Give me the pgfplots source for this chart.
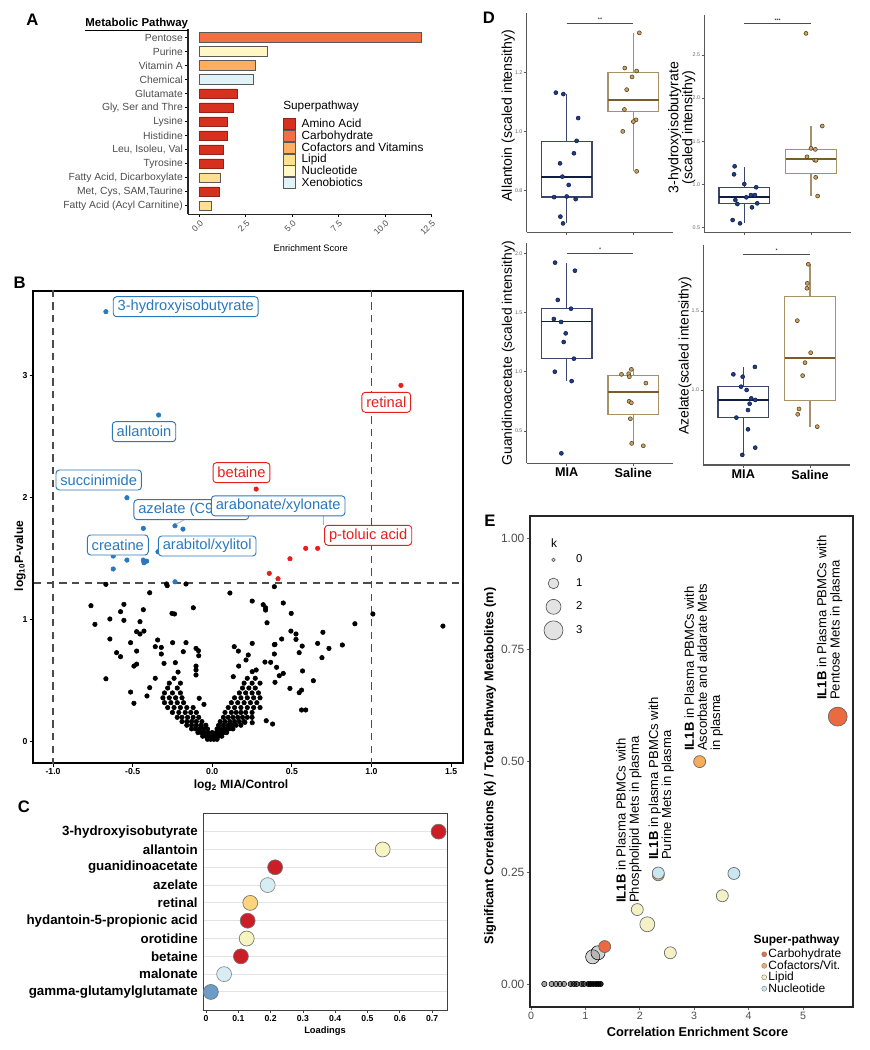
\documentclass[border=0pt]{standalone}
\usepackage{pgfplots}
\pgfplotsset{compat=1.18}
\usepgfplotslibrary{statistics}
\usepackage{fontspec}
\setmainfont{Liberation Sans}
\newcommand\fs[1]{\fontsize{#1}{#1}\selectfont}
\definecolor{tickgray}{HTML}{4D4D4D}
\definecolor{aa}{HTML}{D7301F}
\definecolor{carb}{HTML}{F46D43}
\definecolor{cof}{HTML}{FDAE61}
\definecolor{lip}{HTML}{FEE090}
\definecolor{nuc}{HTML}{FFF8C4}
\definecolor{xen}{HTML}{E0F3F8}
\definecolor{vblue}{HTML}{2B78BC}
\definecolor{vred}{HTML}{E3211C}
\definecolor{cred}{HTML}{CC1E27}
\definecolor{cyel}{HTML}{F8F4C2}
\definecolor{cpale}{HTML}{D8ECF3}
\definecolor{cora}{HTML}{FDD47E}
\definecolor{cblue}{HTML}{6C9DC8}
\definecolor{navy}{HTML}{1C3C8C}
\definecolor{navyd}{HTML}{101D40}
\definecolor{navybox}{HTML}{3B4668}
\definecolor{tanc}{HTML}{C9A160}
\definecolor{tand}{HTML}{4E3D1E}
\definecolor{tanbox}{HTML}{A89068}
\definecolor{tanmed}{HTML}{7A5C28}
\definecolor{ecarb}{HTML}{EB6A3F}
\definecolor{ecof}{HTML}{F6AD5B}
\definecolor{elip}{HTML}{F4F1C6}
\definecolor{enuc}{HTML}{C9E7F0}

\tikzset{px/.style={x=0.75pt,y=-0.75pt}}
\pgfplotsset{
  sqleg/.style={legend image code/.code={\path[draw=none,fill=none] (0pt,-4.4pt) rectangle (9pt,4.4pt);
      \draw[##1,line width=0.5pt] (0pt,-4.1pt) rectangle (9pt,4.1pt);}},
  kleg/.style={legend image code/.code={\path[draw=none,fill=none] (0pt,-8.8pt) rectangle (16pt,8.8pt);
      \draw[##1] plot coordinates {(8pt,0pt)};}},
  sleg/.style={legend image code/.code={\path[draw=none,fill=none] (0pt,-4.3pt) rectangle (4pt,4.3pt);
      \draw[##1] plot coordinates {(2pt,0pt)};}},
  Dax/.style={anchor=south west, scale only axis, xmin=0.4, xmax=2.6, xtick={1,2},
    axis x line*=bottom, axis y line*=left,
    axis line style={draw=black!65, line width=0.9pt},
    tick style={black!65, line width=0.5pt}, tick align=outside, major tick length=2pt,
    yticklabel style={font=\fs{4}, text=black!60, inner sep=1pt,
      /pgf/number format/.cd, fixed, fixed zerofill, precision=1},
    xticklabel style={font=\bfseries\fs{9.5}, text=black, inner sep=1.5pt},
    /pgf/number format/assume math mode=true, clip=false},
  mbox/.style={draw=navybox, line width=0.9pt, boxplot/draw direction=y, boxplot/whisker extend=0,
    boxplot/every median/.style={draw=navyd, line width=1.4pt}},
  sbox/.style={draw=tanbox, line width=0.9pt, boxplot/draw direction=y, boxplot/whisker extend=0,
    boxplot/every median/.style={draw=tanmed, line width=1.4pt}},
  mpts/.style={only marks, mark=*, mark size=1.5pt, mark options={fill=navy, draw=navyd, line width=0.4pt}},
  spts/.style={only marks, mark=*, mark size=1.5pt, mark options={fill=tanc, draw=tand, line width=0.4pt}},
  sig/.style={black!70, line width=0.8pt},
}

\begin{document}
\begin{tikzpicture}
\path[use as bounding box] (0pt,0pt) rectangle (651.75pt,-787.5pt);

% ---------------- A ----------------
\begin{axis}[
  at={(188*0.75pt,-214.3*0.75pt)}, anchor=south west, scale only axis,
  width=183pt, height=138.9pt,
  xmin=-0.62, xmax=12.53, ymin=0.4, ymax=13.6,
  axis x line*=bottom, axis y line*=left,
  axis line style={line width=0.9pt, black!85},
  tick align=outside, major tick length=2.2pt, tick style={black, line width=0.6pt},
  xtick={0,2.5,5,7.5,10,12.5}, xticklabels={0.0,2.5,5.0,7.5,10.0,12.5},
  xticklabel style={rotate=45, anchor=north east, font=\fs{6.5}, text=tickgray, inner sep=1pt},
  ytick={1,...,13},
  yticklabels={Fatty Acid (Acyl Carnitine),{Met, Cys, SAM,Taurine},{Fatty Acid, Dicarboxylate},Tyrosine,{Leu, Isoleu, Val},Histidine,Lysine,{Gly, Ser and Thre},Glutamate,Chemical,Vitamin A,Purine,Pentose},
  yticklabel style={font=\fs{7.75}, text=tickgray, inner sep=1.5pt},
  legend style={at={(axis cs:4.5,7.255)}, anchor=north west, draw=none, fill=none,
    inner sep=0pt, font=\fs{8.85}, cells={anchor=west}, nodes={inner sep=0pt},
    row sep=0pt, /tikz/every odd column/.append style={column sep=4.3pt}},
]
\addplot[xbar, bar width=7.3pt, bar shift=0pt, fill=aa, draw=aa!70!black, forget plot]
  coordinates {(2.02,9) (1.80,8) (1.50,7) (1.50,6) (1.28,5) (1.28,4) (1.05,2)};
\addplot[xbar, bar width=7.3pt, bar shift=0pt, fill=carb, draw=gray!70!black, forget plot]
  coordinates {(11.97,13)};
\addplot[xbar, bar width=7.3pt, bar shift=0pt, fill=cof, draw=gray!70!black, forget plot]
  coordinates {(3.03,11)};
\addplot[xbar, bar width=7.3pt, bar shift=0pt, fill=lip, draw=gray!70!black, forget plot]
  coordinates {(1.12,3) (0.64,1)};
\addplot[xbar, bar width=7.3pt, bar shift=0pt, fill=nuc, draw=gray!70!black, forget plot]
  coordinates {(3.65,12)};
\addplot[xbar, bar width=7.3pt, bar shift=0pt, fill=xen, draw=gray!70!black, forget plot]
  coordinates {(2.90,10)};
\addlegendimage{sqleg, fill=aa, draw=aa!70!black}\addlegendentry{Amino Acid}
\addlegendimage{sqleg, fill=carb, draw=gray!70!black}\addlegendentry{Carbohydrate}
\addlegendimage{sqleg, fill=cof, draw=gray!70!black}\addlegendentry{Cofactors and Vitamins}
\addlegendimage{sqleg, fill=lip, draw=gray!70!black}\addlegendentry{Lipid}
\addlegendimage{sqleg, fill=nuc, draw=gray!70!black}\addlegendentry{Nucleotide}
\addlegendimage{sqleg, fill=xen, draw=gray!70!black}\addlegendentry{Xenobiotics}
\end{axis}
\begin{scope}[px]
\node[anchor=west, inner sep=0pt, font=\fs{8.85}] at (283,106) {Superpathway};
\node[anchor=base east, inner sep=0pt, font=\bfseries\fs{8.6}] at (188.3,26) {\underline{Metabolic Pathway}};
\node[font=\fs{7}] at (310.8,248) {Enrichment Score};
\node[font=\bfseries\fs{12.5}] at (32.5,19.3) {A};
\end{scope}

% ---------------- B ----------------
\begin{axis}[
  at={(33*0.75pt,-763.3*0.75pt)}, anchor=south west, scale only axis,
  width=322.5pt, height=354.45pt,
  xmin=-1.126, xmax=1.575, ymin=-0.177, ymax=3.697,
  axis line style={line width=1.3pt, black},
  tick align=outside, xtick pos=bottom, ytick pos=left, major tick length=2.5pt,
  tick style={black, line width=0.8pt},
  xtick={-1,-0.5,0,0.5,1,1.5}, xticklabels={-1.0,-0.5,0.0,0.5,1.0,1.5},
  ytick={0,1,2,3},
  ticklabel style={font=\bfseries\fs{6.5}, inner sep=1.5pt},
  /pgf/number format/assume math mode=true,
]
\addplot[black!70, line width=1pt, dash pattern=on 5.5pt off 4pt] coordinates {(-1,-0.3) (-1,3.8)};
\addplot[black!70, line width=1pt, dash pattern=on 5.5pt off 4pt] coordinates {(1,-0.3) (1,3.8)};
\addplot[black!70, line width=1pt, dash pattern=on 5.5pt off 4pt] coordinates {(-1.2,1.301) (1.6,1.301)};
% non-significant metabolites
\addplot[only marks, mark=*, mark size=1.7pt, black] coordinates {
(-0.668,1.290) (-0.287,1.293) (-0.283,1.279) (-0.165,1.293) (-0.393,1.221) (0.111,1.219) (0.390,1.271)
(-0.762,1.115) (-0.737,0.962) (-0.555,1.126) (-0.576,1.066) (-0.433,1.082) (-0.119,1.098) (-0.253,1.052)
(-0.237,1.047) (0.251,1.153) (0.320,1.123) (0.335,1.098) (0.335,1.079) (0.446,1.137) (0.496,1.052)
(1.009,1.047) (0.896,0.967) (-0.643,1.006) (-0.555,0.995) (-0.454,0.984) (0.344,0.975) (1.449,0.948)
(-0.643,0.842) (-0.475,0.902) (-0.454,0.883) (-0.429,0.907) (-0.513,0.812) (-0.601,0.730) (-0.576,0.697)
(-0.475,0.743) (-0.492,0.620) (-0.475,0.636) (-0.668,0.516) (-0.513,0.407) (-0.492,0.315) (-0.410,0.375)
(-0.393,0.443) (-0.358,0.520) (-0.343,0.834) (-0.358,0.779) (-0.320,0.773) (-0.320,0.719) (-0.303,0.642)
(-0.249,0.812) (-0.232,0.648) (-0.215,0.571) (-0.182,0.738) (-0.165,0.812) (-0.102,0.765) (-0.087,0.746)
(-0.085,0.705) (-0.102,0.620) (-0.102,0.588) (-0.102,0.547) (-0.082,0.356) (-0.052,0.306) (0.138,0.779)
(0.251,0.806) (0.394,0.798) (0.436,0.842) (0.494,0.907) (0.526,0.883) (0.526,0.839) (0.565,0.784)
(0.546,0.730) (0.662,0.806) (0.733,0.765) (0.689,0.689) (0.817,0.793) (0.695,0.897) (0.567,0.580)
(0.635,0.500) (0.488,0.437) (0.546,0.402) (0.561,0.423) (0.561,0.260) (0.587,0.260) (0.339,0.172)
(0.379,0.145) (0.205,0.159) (0.251,0.156) (0.394,0.487) (0.251,0.574) (0.276,0.588) (0.331,0.653)
(0.367,0.651) (0.404,0.610) (0.421,0.541) (0.446,0.560) (0.390,0.719) (0.390,0.795) (0.226,0.711)
(0.212,0.670) (0.166,0.620) (0.132,0.533) (0.164,0.743)
(-0.03,0.02) (-0.01,0.02) (0.01,0.02) (0.03,0.02)
(-0.06,0.045) (-0.04,0.045) (-0.02,0.045) (0,0.045) (0.02,0.045) (0.04,0.045) (0.06,0.045)
(-0.09,0.075) (-0.07,0.075) (-0.05,0.075) (-0.025,0.075) (0,0.075) (0.025,0.075) (0.05,0.075) (0.07,0.075) (0.09,0.075)
(-0.13,0.105) (-0.105,0.105) (-0.08,0.105) (-0.055,0.105) (-0.03,0.105) (0.03,0.105) (0.055,0.105) (0.08,0.105) (0.105,0.105) (0.13,0.105)
(-0.16,0.135) (-0.13,0.135) (-0.1,0.135) (-0.07,0.135) (-0.04,0.135) (0.04,0.135) (0.07,0.135) (0.1,0.135) (0.125,0.135) (0.15,0.135) (0.18,0.135)
(-0.19,0.165) (-0.16,0.165) (-0.13,0.165) (-0.1,0.165) (-0.065,0.165) (0.05,0.165) (0.08,0.165) (0.11,0.165) (0.14,0.165) (0.17,0.165) (0.2,0.165)
(-0.22,0.2) (-0.19,0.2) (-0.155,0.2) (-0.12,0.2) (-0.085,0.2) (0.07,0.2) (0.1,0.2) (0.13,0.2) (0.16,0.2) (0.19,0.2) (0.22,0.2) (0.25,0.2)
(-0.25,0.24) (-0.21,0.24) (-0.17,0.24) (-0.135,0.24) (-0.1,0.24) (0.08,0.24) (0.12,0.24) (0.15,0.24) (0.18,0.24) (0.21,0.24) (0.25,0.24)
(-0.28,0.28) (-0.24,0.28) (-0.2,0.28) (-0.16,0.28) (-0.12,0.28) (0.1,0.28) (0.14,0.28) (0.18,0.28) (0.22,0.28) (0.26,0.28) (0.3,0.28)
(-0.3,0.32) (-0.26,0.32) (-0.22,0.32) (-0.18,0.32) (0.12,0.32) (0.16,0.32) (0.2,0.32) (0.24,0.32) (0.28,0.32)
(-0.31,0.36) (-0.27,0.36) (-0.23,0.36) (-0.19,0.36) (0.14,0.36) (0.18,0.36) (0.22,0.36) (0.26,0.36) (0.3,0.36)
(-0.3,0.4) (-0.25,0.4) (-0.2,0.4) (0.17,0.4) (0.21,0.4) (0.25,0.4) (0.29,0.4)
(-0.28,0.44) (-0.22,0.44) (0.19,0.44) (0.23,0.44) (0.27,0.44)
(-0.27,0.48) (-0.2,0.48) (0.2,0.48) (0.25,0.48) (0.3,0.48)
(-0.24,0.52) (0.22,0.52) (0.27,0.52)
};
% decreased
\addplot[only marks, mark=*, mark size=1.7pt, vblue] coordinates {
(-0.668,3.525) (-0.337,2.678) (-0.536,2.000) (-0.433,1.749) (-0.234,1.770) (-0.184,1.743) (-0.341,1.557)
(-0.622,1.522) (-0.536,1.489) (-0.433,1.489) (-0.429,1.467) (-0.412,1.480) (-0.622,1.416) (-0.234,1.311)};
% increased
\addplot[only marks, mark=*, mark size=1.7pt, vred] coordinates {
(1.185,2.921) (0.276,2.071) (0.587,1.585) (0.662,1.585) (0.488,1.500) (0.358,1.380) (0.413,1.336)};
\end{axis}
\begin{scope}[px]
\draw[gray!60, line width=0.6pt] (176,524.3) -- (185,519.3);
\draw[gray!60, line width=0.6pt] (323.3,515.7) -- (323.3,525);
\tikzset{vlab/.style={draw=#1, text=#1, fill=white, rounded corners=2.5pt, line width=0.7pt,
  font=\fs{11}, inner xsep=3.3pt, inner ysep=0pt, minimum height=15pt}}
\node[vlab=vblue] at (185.7,306.7) {3-hydroxyisobutyrate};
\node[vlab=vblue] at (144,431.7) {allantoin};
\node[vlab=vblue] at (98.7,480) {succinimide};
\node[vlab=vblue] at (191.3,509.7) {azelate (C9-DC)};
\node[vlab=vblue] at (278.2,505.8) {arabonate/xylonate};
\node[vlab=vblue] at (117.8,545) {creatine};
\node[vlab=vblue] at (207.2,546) {arabitol/xylitol};
\node[vlab=vred] at (241.5,472.7) {betaine};
\node[vlab=vred] at (386.3,402.3) {retinal};
\node[vlab=vred] at (368.2,535.3) {p-toluic acid};
\node[rotate=90, font=\bfseries\fs{9}] at (20,556) {log\textsubscript{10}P-value};
\node[font=\bfseries\fs{9}] at (241,785.7) {log\textsubscript{2} MIA/Control};
\node[font=\bfseries\fs{12.5}] at (19.7,283) {B};
\end{scope}

% ---------------- C ----------------
\begin{axis}[
  at={(203.3*0.75pt,-1010.3*0.75pt)}, anchor=south west, scale only axis,
  width=183pt, height=147.75pt,
  xmin=-0.0084, xmax=0.747, ymin=-0.03, ymax=11.03,
  axis line style={black!75, line width=0.8pt},
  ymajorgrids, grid style={gray!22, line width=0.8pt},
  tick align=outside, xtick pos=bottom, ytick pos=left,
  xtick={0,0.1,0.2,0.3,0.4,0.5,0.6,0.7}, xticklabels={0,0.1,0.2,0.3,0.4,0.5,0.6,0.7},
  xticklabel style={font=\bfseries\fs{6.5}, inner sep=1.5pt},
  ytick={1,...,10}, ytick style={draw=none},
  yticklabels={gamma-glutamylglutamate,malonate,betaine,orotidine,hydantoin-5-propionic acid,retinal,azelate,guanidinoacetate,allantoin,3-hydroxyisobutyrate},
  yticklabel style={font=\bfseries\fs{10}, inner sep=2pt},
  x tick style={black!75, line width=0.5pt}, major tick length=2pt,
  clip=false,
]
\addplot[only marks, mark=*, mark size=5.6pt, mark options={fill=cred, draw=black!55, line width=0.5pt}]
  coordinates {(0.72,10) (0.214,8) (0.129,5) (0.108,3)};
\addplot[only marks, mark=*, mark size=5.6pt, mark options={fill=cyel, draw=black!55, line width=0.5pt}]
  coordinates {(0.547,9) (0.126,4)};
\addplot[only marks, mark=*, mark size=5.6pt, mark options={fill=cpale, draw=black!45, line width=0.5pt}]
  coordinates {(0.191,7) (0.056,2)};
\addplot[only marks, mark=*, mark size=5.6pt, mark options={fill=cora, draw=black!55, line width=0.5pt}]
  coordinates {(0.137,6)};
\addplot[only marks, mark=*, mark size=5.6pt, mark options={fill=cblue, draw=black!55, line width=0.5pt}]
  coordinates {(0.015,1)};
\end{axis}
\begin{scope}[px]
\node[font=\bfseries\fs{7}] at (325,1031) {Loadings};
\node[font=\bfseries\fs{12.5}] at (24,807) {C};
\end{scope}

% ---------------- D ----------------
\begin{axis}[Dax, at={(526.7*0.75pt,-232.3*0.75pt)}, width=110pt, height=164.25pt,
  ymin=0.659, ymax=1.399, ytick={0.8,1.0,1.2}, xticklabels={}]
\addplot[mbox, boxplot prepared={lower whisker=0.69, lower quartile=0.778, median=0.847,
  upper quartile=0.966, upper whisker=1.127, draw position=1, box extend=0.76}] coordinates {};
\addplot[sbox, boxplot prepared={lower whisker=0.865, lower quartile=1.066, median=1.107,
  upper quartile=1.2, upper whisker=1.332, draw position=2, box extend=0.76}] coordinates {};
\addplot[mpts] coordinates {(0.837,1.131) (0.95,1.126) (1.172,1.045) (1.149,0.968) (1.108,0.926)
  (0.9,0.892) (0.935,0.847) (1.03,0.819) (0.811,0.778) (1.0,0.78) (1.134,0.771) (0.905,0.712) (0.945,0.689)};
\addplot[spts] coordinates {(2.089,1.333) (1.871,1.214) (2.049,1.204) (1.98,1.184) (1.9,1.141)
  (1.866,1.074) (2.04,1.039) (2.0,1.033) (1.841,1.0) (2.049,0.865)};
\addplot[sig] coordinates {(1,1.366) (2,1.366)};
\node[font=\fs{4}, above, inner sep=1pt] at (axis cs:1.5,1.366) {**};
\end{axis}

\begin{axis}[Dax, at={(704.3*0.75pt,-232.3*0.75pt)}, width=110pt, height=163pt,
  ymin=0.447, ymax=2.963, ytick={0.5,1.0,1.5,2.0,2.5}, xticklabels={}]
\addplot[mbox, boxplot prepared={lower whisker=0.551, lower quartile=0.782, median=0.852,
  upper quartile=0.968, upper whisker=1.206, draw position=1, box extend=0.76}] coordinates {};
\addplot[sbox, boxplot prepared={lower whisker=0.867, lower quartile=1.13, median=1.299,
  upper quartile=1.407, upper whisker=1.677, draw position=2, box extend=0.76}] coordinates {};
\addplot[mpts] coordinates {(0.855,1.211) (0.846,1.118) (1.0,1.006) (1.179,0.968) (1.1,0.878)
  (1.159,0.878) (1.03,0.852) (0.866,0.82) (0.896,0.774) (1.194,0.782) (1.115,0.736) (0.825,0.589) (0.936,0.551)};
\addplot[spts] coordinates {(1.925,2.75) (2.169,1.677) (2.0,1.419) (2.065,1.407) (1.94,1.321)
  (2.055,1.283) (2.075,1.28) (2.07,1.083) (2.1,0.867)};
\addplot[sig] coordinates {(1,2.859) (2,2.859)};
\node[font=\fs{4}, above, inner sep=1pt] at (axis cs:1.5,2.859) {***};
\end{axis}

\begin{axis}[Dax, at={(526.7*0.75pt,-463.3*0.75pt)}, width=110pt, height=165pt,
  ymin=0.227, ymax=2.084, ytick={0.5,1.0,1.5,2.0}, xticklabels={MIA,Saline}]
\addplot[mbox, boxplot prepared={lower whisker=0.921, lower quartile=1.11, median=1.424,
  upper quartile=1.537, upper whisker=1.916, draw position=1, box extend=0.76}] coordinates {};
\addplot[sbox, boxplot prepared={lower whisker=0.395, lower quartile=0.64, median=0.826,
  upper quartile=0.97, upper whisker=1.02, draw position=2, box extend=0.76}] coordinates {};
\addplot[mpts] coordinates {(0.826,1.921) (1.123,1.853) (0.866,1.606) (1.064,1.532) (0.807,1.445)
  (0.915,1.42) (0.985,1.324) (0.955,1.251) (1.108,1.11) (0.822,1.0) (1.074,0.921) (0.92,0.311)};
\addplot[spts] coordinates {(1.97,1.02) (1.822,0.978) (1.93,0.983) (1.94,0.958) (2.188,0.904)
  (1.936,0.75) (1.97,0.738) (1.955,0.603) (1.975,0.395) (2.149,0.375)};
\addplot[sig] coordinates {(1,2.0) (2,2.0)};
\node[font=\fs{4}, above, inner sep=1pt] at (axis cs:1.5,2.0) {*};
\end{axis}

\begin{axis}[Dax, at={(703.3*0.75pt,-465*0.75pt)}, width=110pt, height=165pt,
  ymin=0.525, ymax=1.918, ytick={1.0,1.5}, xticklabels={MIA,Saline}]
\addplot[mbox, boxplot prepared={lower whisker=0.589, lower quartile=0.825, median=0.937,
  upper quartile=1.021, upper whisker=1.144, draw position=1, box extend=0.76}] coordinates {};
\addplot[sbox, boxplot prepared={lower whisker=0.768, lower quartile=0.932, median=1.204,
  upper quartile=1.59, upper whisker=1.796, draw position=2, box extend=0.76}] coordinates {};
\addplot[mpts] coordinates {(1.174,1.146) (0.851,1.099) (0.99,1.084) (0.966,1.021) (1.05,1.0)
  (1.119,0.947) (1.179,0.937) (1.095,0.913) (1.07,0.873) (0.896,0.825) (1.07,0.751) (1.179,0.635) (0.985,0.589)};
\addplot[spts] coordinates {(1.975,1.796) (1.96,1.675) (1.955,1.644) (1.81,1.439) (2.01,1.236)
  (1.925,1.173) (1.89,1.091) (1.836,0.88) (1.816,0.846) (2.109,0.768)};
\addplot[sig] coordinates {(1,1.859) (2,1.859)};
\node[font=\fs{4}, above, inner sep=1pt] at (axis cs:1.5,1.859) {*};
\end{axis}
\begin{scope}[px]
\node[rotate=90, font=\fs{10.6}] at (508.3,115.5) {Allantoin (scaled intensithy)};
\node[rotate=90, font=\fs{10.6}, align=center] at (681.7,127.5) {3-hydroxyisobutyrate\\(scaled intensithy)};
\node[rotate=90, font=\fs{10.4}] at (508.3,353.3) {Guanidinoacetate (scaled intensithy)};
\node[rotate=90, font=\fs{10.4}] at (685,355.8) {Azelate(scaled intensithy)};
\node[font=\bfseries\fs{12.5}] at (489,17.5) {D};
\end{scope}

% ---------------- E ----------------
\begin{axis}[
  at={(530*0.75pt,-1006.7*0.75pt)}, anchor=south west, scale only axis,
  width=242.5pt, height=368pt,
  xmin=-0.018, xmax=5.925, ymin=-0.051, ymax=1.05,
  axis line style={line width=1.3pt, black!85},
  tick align=outside, xtick pos=bottom, ytick pos=left, major tick length=2.5pt,
  tick style={black!60, line width=0.6pt},
  xtick={0,1,2,3,4,5}, ytick={0,0.25,0.5,0.75,1},
  xticklabel style={font=\fs{8}, text=tickgray, inner sep=1.5pt},
  yticklabel style={font=\fs{9}, text=tickgray, inner sep=1.5pt,
    /pgf/number format/.cd, fixed, fixed zerofill, precision=2},
  /pgf/number format/assume math mode=true,
  legend style={at={(axis cs:0.213,0.9785)}, anchor=north west, draw=none, fill=none,
    inner sep=0pt, font=\fs{8.5}, cells={anchor=west}, nodes={inner sep=0pt},
    row sep=0pt, /tikz/every odd column/.append style={column sep=9pt}},
]
% k = 0 pathways
\addplot[only marks, mark=*, mark size=2pt, draw=none, fill=black, fill opacity=0.35, forget plot]
  coordinates {(0.245,0) (0.38,0) (0.46,0) (0.533,0) (0.607,0)};
\addplot[only marks, mark=*, mark size=2pt, draw=none, fill=black, fill opacity=0.55, forget plot]
  coordinates {(0.73,0) (0.79,0) (0.84,0) (0.93,0) (0.974,0)};
\addplot[only marks, mark=*, mark size=2pt, draw=none, fill=black, fill opacity=0.85, forget plot]
  coordinates {(1.054,0) (1.097,0) (1.146,0) (1.195,0) (1.238,0) (1.281,0)};
\addplot[only marks, mark=*, mark size=5.3pt, draw=none, fill=gray, fill opacity=0.35, forget plot]
  coordinates {(1.134,0.061) (1.232,0.07)};
\addplot[only marks, mark=*, mark size=4.5pt, mark options={fill=ecof, draw=black!60, line width=0.5pt}, forget plot]
  coordinates {(2.34,0.245) (3.10,0.499)};
\addplot[only marks, mark=*, mark size=4.5pt, mark options={fill=ecarb, draw=black!60, line width=0.5pt}, forget plot]
  coordinates {(1.355,0.084)};
\addplot[only marks, mark=*, mark size=7.1pt, mark options={fill=ecarb, draw=black!60, line width=0.5pt}, forget plot]
  coordinates {(5.638,0.60)};
\addplot[only marks, mark=*, mark size=4.5pt, mark options={fill=enuc, draw=black!60, line width=0.5pt}, forget plot]
  coordinates {(2.34,0.249) (3.73,0.248)};
\addplot[only marks, mark=*, mark size=4.5pt, mark options={fill=elip, draw=black!60, line width=0.5pt}, forget plot]
  coordinates {(3.517,0.198) (1.954,0.167) (2.561,0.07)};
\addplot[only marks, mark=*, mark size=5.6pt, mark options={fill=elip, draw=black!60, line width=0.5pt}, forget plot]
  coordinates {(2.138,0.134)};
\addlegendimage{kleg, only marks, mark=*, mark size=1.3pt, mark options={fill=gray!22, draw=gray!70!black, line width=0.5pt}}\addlegendentry{0}
\addlegendimage{kleg, only marks, mark=*, mark size=4pt, mark options={fill=gray!22, draw=gray!70!black, line width=0.5pt}}\addlegendentry{1}
\addlegendimage{kleg, only marks, mark=*, mark size=5.6pt, mark options={fill=gray!22, draw=gray!70!black, line width=0.5pt}}\addlegendentry{2}
\addlegendimage{kleg, only marks, mark=*, mark size=7.1pt, mark options={fill=gray!22, draw=gray!70!black, line width=0.5pt}}\addlegendentry{3}
\end{axis}
\begin{axis}[
  at={(530*0.75pt,-1006.7*0.75pt)}, anchor=south west, scale only axis, hide axis,
  width=242.5pt, height=368pt,
  xmin=-0.018, xmax=5.925, ymin=-0.051, ymax=1.05,
  legend style={at={(axis cs:4.233,0.08)}, anchor=north west, draw=none, fill=none,
    inner sep=0pt, font=\fs{9}, cells={anchor=west}, nodes={inner sep=0pt},
    row sep=0pt, /tikz/every odd column/.append style={column sep=1.2pt}},
]
\addlegendimage{sleg, only marks, mark=*, mark size=1.9pt, mark options={fill=ecarb, draw=black!50, line width=0.3pt}}\addlegendentry{Carbohydrate}
\addlegendimage{sleg, only marks, mark=*, mark size=1.9pt, mark options={fill=ecof, draw=black!50, line width=0.3pt}}\addlegendentry{Cofactors/Vit.}
\addlegendimage{sleg, only marks, mark=*, mark size=1.9pt, mark options={fill=elip, draw=black!50, line width=0.3pt}}\addlegendentry{Lipid}
\addlegendimage{sleg, only marks, mark=*, mark size=1.9pt, mark options={fill=enuc, draw=black!50, line width=0.3pt}}\addlegendentry{Nucleotide}
\end{axis}
\begin{scope}[px]
\node[anchor=west, inner sep=0pt, font=\bfseries\fs{9}] at (753.3,940.7) {Super-pathway};
\node[font=\fs{9}] at (554,542.7) {k};
\tikzset{elab/.style={rotate=90, anchor=base west, align=left, inner sep=0pt, font=\fs{9.8}}}
\node[elab] at (839.5,700) {\textbf{IL1B} in Plasma PBMCs with\\Pentose Mets in plasma};
\node[elab] at (720,751) {\textbf{IL1B} in Plasma PBMCs with\\Ascorbate and aldarate Mets\\in plasma};
\node[elab] at (671.1,860) {\textbf{IL1B} in plasma PBMCs with\\Purine Mets in plasma};
\node[elab] at (638.8,903) {\textbf{IL1B} in Plasma PBMCs with\\Phospholipid Mets in plasma};
\node[rotate=90, font=\bfseries\fs{9.6}] at (490,766) {Significant Correlations (k) / Total Pathway Metabolites (m)};
\node[font=\bfseries\fs{9.6}] at (697.5,1031.7) {Correlation Enrichment Score};
\node[font=\bfseries\fs{12.5}] at (490,520.7) {E};
\end{scope}
\end{tikzpicture}
\end{document}
